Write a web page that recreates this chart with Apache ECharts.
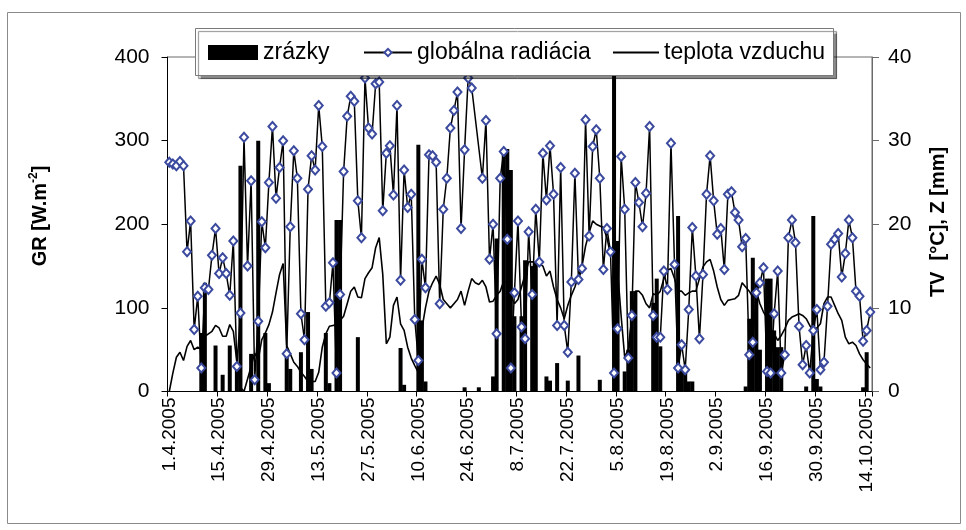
<!DOCTYPE html>
<html>
<head>
<meta charset="utf-8">
<script src="https://cdn.jsdelivr.net/npm/echarts@6.0.0/dist/echarts.min.js"></script>
<style>
  html, body { margin: 0; padding: 0; background: #fff; }
  #chart { width: 966px; height: 530px; }
</style>
</head>
<body>
<div id="chart"></div>
<script>
// ---- Data (daily values, 1.4.2005 – 15.10.2005) ----
const startDate = [2005, 3, 1]; // 1 April 2005
const dayCount = 198;
const categories = [];
for (let i = 0; i < dayCount; i++) {
  const d = new Date(startDate[0], startDate[1], startDate[2] + i);
  categories.push(d.getDate() + '.' + (d.getMonth() + 1) + '.' + d.getFullYear());
}
const tickLabels = ['1.4.2005','15.4.2005','29.4.2005','13.5.2005','27.5.2005','10.6.2005','24.6.2005',
  '8.7.2005','22.7.2005','5.8.2005','19.8.2005','2.9.2005','16.9.2005','30.9.2005','14.10.2005'];

// zrážky [mm] (right axis)
const zrazky = [
  0,0,0,0,0,0,0,0,0,7,13,0,0,5.5,
  0,2,0,5.5,0,2.7,27,0,0,4.5,0,30,0,7,
  1,0,0,0,0,4.5,2.7,0,0,4.7,0,9.5,2.7,0,
  0,0,7,1,0,20.5,20.5,0,0,0,0,6.5,0,0,
  0,0,0,0,0,0,0,0,0,5.2,0.8,0,0,0,
  29.5,8.5,1.2,0,0,0,0,0,0,0,0,0,0,0.5,
  0,0,0,0.5,0,0,0,1.8,18.3,0,29,29,26.5,9,
  0,9,15.7,0,15,15.5,0,0,1.8,1.3,0,3.4,0,0,
  1.3,0,0,4.3,0,0,0,0,0,1.4,0,0,0,38,
  18,0,2.4,5,12,12,0,0,0,0,10.6,13.5,5.4,0,
  0,0,0,21,2.6,2.5,1.2,1.2,0,0,0,0,0,0,
  0,0,0,0,0,0,0,0,0.6,8.7,16,13,5,0,
  13.5,13.5,7.3,5.3,5.3,0,0,0,0,0,0,0.6,0,21,
  1.5,0.6,0,0,0,0,0,0,0,0,0,0,0,0.5,
  4.7,0
];

// globálna radiácia [W.m-2] (left axis)
const globalnaRadiacia = [
  274,272,270,275,270,167,204,74,114,28,124,122,163,195,
  141,160,141,115,180,30,94,304,150,252,14,84,203,172,
  250,317,231,268,300,45,197,288,255,93,62,242,282,265,
  342,293,102,106,154,22,116,263,329,353,347,228,184,375,
  315,308,368,370,216,285,294,235,342,133,265,220,236,86,
  37,158,124,283,282,274,105,218,255,315,336,358,195,289,
  375,363,null,null,255,324,158,200,69,255,287,182,28,118,
  204,77,63,191,116,218,155,285,229,294,236,79,268,79,
  47,131,261,134,147,325,186,293,313,255,146,195,167,22,
  75,281,218,40,91,250,226,197,237,317,91,65,65,144,
  122,297,152,28,56,26,98,196,138,63,140,236,282,228,
  188,195,146,236,239,214,205,173,183,44,59,118,130,148,
  24,22,93,144,22,44,184,205,178,78,32,55,22,73,
  98,26,35,102,176,182,189,137,165,205,184,120,114,60,
  73,95
];

// teplota vzduchu [°C] (right axis)
const teplotaVzduchu = [
  0,2.2,4.1,4.7,3.7,5.4,6.1,5.0,5.3,5.0,6.6,6.9,7.2,7.9,
  7.6,6.6,6.6,8.0,7.2,3.5,0.5,0,1.5,3.0,4.6,3.8,6.2,7.0,
  8.0,9.5,11.8,14.0,15.3,5.5,4.5,3.5,3.0,2.3,1.8,1.2,1.2,1.2,
  2.3,5.3,6.9,7.8,7.9,8.0,8.5,9.0,10.5,12.0,12.5,11.3,11.2,13.5,
  14.2,14.8,17.2,18.4,14.0,5.7,6.5,10.3,11.3,8.1,7.3,5.3,4.0,3.1,
  2.3,7.5,10.0,12.0,13.0,13.8,12.8,11.0,10.5,10.0,10.5,11.0,12.0,10.3,
  12.0,13.5,13.0,12.8,13.3,12.5,10.7,10.8,11.5,12.0,13.2,13.0,11.5,10.5,
  11.0,12.5,14.0,15.5,15.5,15.4,15.3,15.0,13.8,14.4,12.5,11.0,10.0,8.7,
  10.3,11.5,12.5,13.8,15.0,17.4,19.0,20.4,20.0,19.8,19.6,18.4,16.4,16.8,
  14.5,9.0,4.1,5.0,8.9,12.0,12.0,11.5,10.5,10.0,11.7,11.5,12.0,13.5,
  14.5,14.7,13.5,12.0,12.0,11.5,11.8,12.0,12.0,13.5,14.9,15.5,15.8,14.4,
  12.5,11.0,10.3,10.9,11.0,11.1,11.5,13.0,12.5,12.0,11.3,12.0,10.5,9.5,
  8.8,7.5,6.9,6.1,6.7,7.5,8.5,8.9,9.1,9.3,9.1,8.7,7.9,7.3,
  7.6,8.1,10.5,11.3,11.3,10.3,9.3,8.5,6.5,5.7,5.9,5.5,4.5,3.8,
  3.3,2.8
];

const leftTicks = [0, 100, 200, 300, 400];
const rightTicks = [0, 10, 20, 30, 40];

// ---- Chart ----
const FONT = '"Liberation Sans", Arial, Helvetica, sans-serif';
const tickFn = function (index) { return tickLabels.indexOf(categories[index]) !== -1; };

const chart = echarts.init(document.getElementById('chart'), null, { renderer: 'canvas' });
const legendText = { fontSize: 23, color: '#000', fontFamily: FONT };
const option = {
  animation: false,
  backgroundColor: '#ffffff',
  textStyle: { fontFamily: FONT },
  grid: {
    left: 167.5, right: 94, top: 57, bottom: 138.5,
    show: true, borderColor: '#6a6a6a', borderWidth: 1, backgroundColor: '#ffffff'
  },
  xAxis: {
    type: 'category',
    data: categories,
    boundaryGap: true,
    axisLine: { lineStyle: { color: '#000', width: 1 } },
    axisTick: { show: true, interval: tickFn, length: 5, lineStyle: { color: '#000' } },
    axisLabel: {
      interval: tickFn, rotate: 90, fontSize: 19, color: '#000', margin: 6, fontFamily: FONT
    },
    splitLine: { show: false }
  },
  yAxis: [
    {
      type: 'value', min: leftTicks[0], max: leftTicks[leftTicks.length - 1], interval: 100,
      position: 'left',
      axisLine: { show: true, lineStyle: { color: '#000' } },
      axisTick: { show: true, length: 6, lineStyle: { color: '#000' } },
      axisLabel: { fontSize: 21, color: '#000', margin: 18, fontFamily: FONT },
      splitLine: { show: false }
    },
    {
      type: 'value', min: rightTicks[0], max: rightTicks[rightTicks.length - 1], interval: 10,
      position: 'right',
      axisLine: { show: true, lineStyle: { color: '#6a6a6a' } },
      axisTick: { show: true, length: 7, lineStyle: { color: '#6a6a6a' } },
      axisLabel: { fontSize: 21, color: '#000', margin: 16, fontFamily: FONT },
      splitLine: { show: false }
    }
  ],
  legend: [
    {
      data: ['zrázky'], left: 208, top: 41, padding: 0, itemWidth: 50, itemHeight: 15,
      selectedMode: false, z: 60, icon: 'rect', textStyle: legendText
    },
    {
      data: ['globálna radiácia'], left: 363, top: 41, padding: 0,
      itemWidth: 48, itemHeight: 9, selectedMode: false, z: 60, textStyle: legendText
    },
    {
      data: ['teplota vzduchu'], left: 613, top: 41, padding: 0, icon: 'rect',
      itemWidth: 46, itemHeight: 2, selectedMode: false, z: 60, textStyle: legendText
    }
  ],
  graphic: [
    {
      type: 'rect', z: 0, silent: true,
      shape: { x: 7.5, y: 12.5, width: 953, height: 511 },
      style: { fill: 'none', stroke: '#8a8a8a', lineWidth: 1 }
    },
    {
      type: 'rect', z: 50, silent: true,
      shape: { x: 195.5, y: 28.5, width: 638, height: 47 },
      style: { fill: '#fff', stroke: '#7a7a7a', lineWidth: 1,
               shadowColor: 'rgba(0,0,0,0.45)', shadowOffsetX: 3, shadowOffsetY: 3, shadowBlur: 1 }
    },
    {
      type: 'text', x: 40, y: 216, rotation: Math.PI / 2, silent: true, z: 10,
      style: {
        text: '{b|GR [W.m}{s|-2}{b|]}',
        textAlign: 'center', textVerticalAlign: 'middle',
        rich: {
          b: { fontSize: 20, fontWeight: 'bold', fontFamily: FONT, fill: '#000', lineHeight: 24, verticalAlign: 'middle' },
          s: { fontSize: 12, fontWeight: 'bold', fontFamily: FONT, fill: '#000', verticalAlign: 'top' }
        }
      }
    },
    {
      type: 'text', x: 938, y: 222, rotation: Math.PI / 2, silent: true, z: 10,
      style: {
        text: 'TV  [°C], Z [mm]',
        textAlign: 'center', textVerticalAlign: 'middle',
        font: 'bold 20px ' + FONT, fill: '#000'
      }
    }
  ],
  series: [
    {
      name: 'zrázky', type: 'bar', yAxisIndex: 1, data: zrazky,
      itemStyle: { color: '#000' }, barWidth: 4, z: 2
    },
    {
      name: 'globálna radiácia', type: 'line', yAxisIndex: 0, data: globalnaRadiacia,
      connectNulls: true, symbol: 'emptyDiamond', symbolSize: [8, 9], showAllSymbol: true,
      lineStyle: { color: '#000', width: 1.5 },
      itemStyle: { color: '#3b4a9e', borderWidth: 1.5 },
      z: 4
    },
    {
      name: 'teplota vzduchu', type: 'line', yAxisIndex: 1, data: teplotaVzduchu,
      symbol: 'none', showSymbol: false,
      lineStyle: { color: '#000', width: 1.6 },
      itemStyle: { color: '#000' },
      z: 3
    }
  ]
};
chart.setOption(option);
</script>
</body>
</html>
